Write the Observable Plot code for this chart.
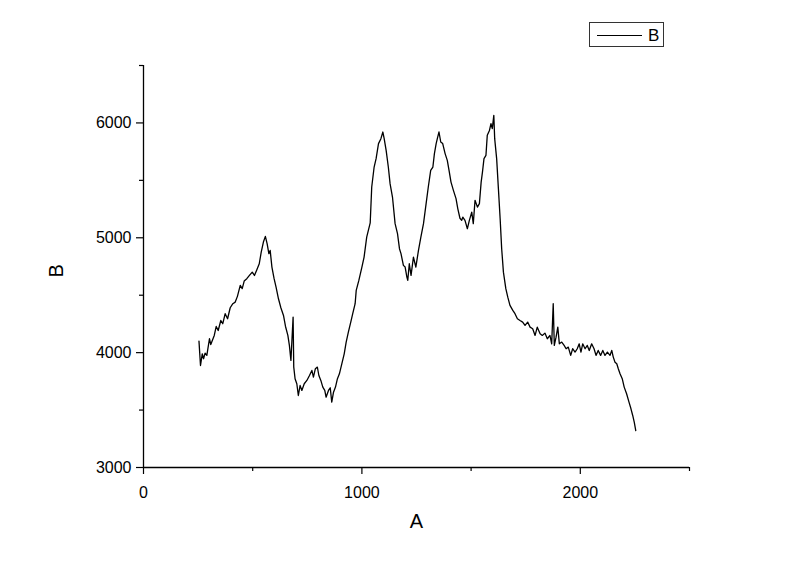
<!DOCTYPE html>
<html>
<head>
<meta charset="utf-8">
<script src="https://cdn.jsdelivr.net/npm/d3@7"></script>
<script src="https://cdn.jsdelivr.net/npm/@observablehq/plot@0.6"></script>
<style>
  html, body { margin: 0; padding: 0; background: white; }
  #wrap { position: relative; width: 800px; height: 561px; font-family: "Liberation Sans", Arial, sans-serif; }
  #legend { position: absolute; left: 589px; top: 22px; width: 75px; height: 25px; box-sizing: border-box; border: 1px solid #333; background: white; }
  #legend .ln { position: absolute; left: 7px; top: 12px; width: 45px; height: 0; border-top: 1px solid #000; }
  #legend .lb { position: absolute; left: 58px; top: 1.5px; font-size: 17px; line-height: 22px; color: #000; }
</style>
</head>
<body>
<div id="wrap"></div>
<script>
const A = [254,261,269,275,282,290,302,308,324,333,342,354,363,374,385,397,409,420,430,443,452,461,473,485,498,508,519,530,539,549,558,566,574,580,588,598,607,618,629,641,650,661,668,675,685,688,694,702,709,717,725,736,748,760,771,778,787,796,803,812,821,830,836,847,855,862,870,879,888,897,908,919,928,938,949,958,969,974,986,1000,1010,1022,1038,1045,1056,1065,1076,1087,1096,1102,1111,1121,1129,1140,1152,1163,1172,1179,1190,1198,1206,1210,1217,1225,1236,1247,1259,1270,1282,1294,1304,1315,1325,1332,1340,1347,1353,1361,1370,1381,1391,1399,1408,1419,1431,1439,1449,1457,1462,1472,1483,1492,1503,1510,1518,1529,1538,1546,1552,1559,1568,1574,1584,1591,1597,1604,1608,1617,1625,1633,1640,1648,1659,1668,1678,1691,1701,1712,1724,1736,1747,1759,1770,1782,1793,1803,1816,1826,1838,1849,1861,1869,1876,1881,1889,1897,1904,1915,1926,1935,1945,1956,1965,1976,1986,1995,2003,2011,2022,2032,2041,2052,2063,2072,2082,2093,2103,2113,2124,2136,2144,2151,2159,2167,2174,2182,2192,2201,2212,2223,2232,2240,2247,2254];
const B = [4100,3888,3990,3947,3996,3976,4121,4071,4150,4228,4193,4280,4252,4339,4295,4391,4426,4440,4490,4585,4557,4623,4644,4672,4701,4672,4722,4774,4875,4963,5012,4949,4862,4890,4745,4644,4571,4469,4391,4324,4230,4150,4063,3932,4310,3874,3773,3729,3627,3714,3671,3729,3758,3801,3845,3787,3860,3874,3801,3758,3700,3671,3612,3671,3694,3569,3656,3700,3773,3816,3903,3990,4092,4178,4266,4339,4426,4542,4629,4745,4832,5006,5130,5442,5616,5689,5820,5863,5921,5863,5761,5616,5471,5355,5123,5036,4905,4862,4760,4745,4658,4629,4774,4672,4832,4745,4890,5006,5123,5297,5442,5587,5616,5733,5820,5877,5921,5834,5820,5733,5674,5587,5485,5413,5341,5254,5170,5152,5180,5152,5079,5152,5224,5123,5326,5267,5297,5485,5572,5689,5718,5892,5935,5993,5950,6066,5863,5689,5428,5166,4905,4701,4557,4483,4411,4368,4339,4295,4280,4266,4237,4266,4222,4208,4150,4222,4164,4150,4170,4121,4150,4077,4426,4063,4135,4222,4077,4092,4063,4034,4048,3976,4034,4005,4034,4077,4005,4077,4034,4063,4019,4077,4034,3976,4019,3976,4019,3976,4005,3976,4019,3961,3917,3903,3860,3816,3773,3700,3642,3569,3511,3453,3395,3322];

const xMajor = [0, 1000, 2000];
const xMinor = [500, 1500, 2500];
const yMajor = [3000, 4000, 5000, 6000];
const yMinor = [3500, 4500, 5500, 6500];
const xTitle = ["A"];
const yTitle = ["B"];
const seriesName = "B";

const data = A.map((a, i) => ({A: a, B: B[i]}));

const chart = Plot.plot({
  width: 800,
  height: 561,
  marginLeft: 143,
  marginRight: 111,
  marginTop: 65,
  marginBottom: 94,
  style: {fontFamily: "'Liberation Sans', Arial, sans-serif", background: "white", color: "black", overflow: "visible"},
  x: {domain: [0, 2500], label: null},
  y: {domain: [3000, 6500], label: null},
  marks: [
    Plot.ruleY([3000], {stroke: "black", strokeWidth: 1.3}),
    Plot.ruleX([0], {stroke: "black", strokeWidth: 1.3}),
    Plot.axisX(xMajor, {tickSize: 7, tickPadding: 12, fontSize: 16, tickFormat: d => String(d), label: null, strokeWidth: 1.2}),
    Plot.axisX(xMinor, {tickSize: 4, tickFormat: () => "", label: null, strokeWidth: 1.2}),
    Plot.axisY(yMajor, {tickSize: 7, tickPadding: 5, fontSize: 16, tickFormat: d => String(d), label: null, strokeWidth: 1.2}),
    Plot.axisY(yMinor, {tickSize: 4, tickFormat: () => "", label: null, strokeWidth: 1.2}),
    Plot.line(data, {x: "A", y: "B", stroke: "black", strokeWidth: 1.3}),
    Plot.text(xTitle, {text: d => d, frameAnchor: "bottom", dy: 60, fontSize: 20}),
    Plot.text(yTitle, {text: d => d, frameAnchor: "left", dx: -87, dy: 11, rotate: -90, fontSize: 20})
  ]
});

const wrap = document.getElementById("wrap");
wrap.appendChild(chart);
const legend = document.createElement("div");
legend.id = "legend";
legend.innerHTML = '<div class="ln"></div><div class="lb"></div>';
legend.querySelector(".lb").textContent = seriesName;
wrap.appendChild(legend);
</script>
</body>
</html>
